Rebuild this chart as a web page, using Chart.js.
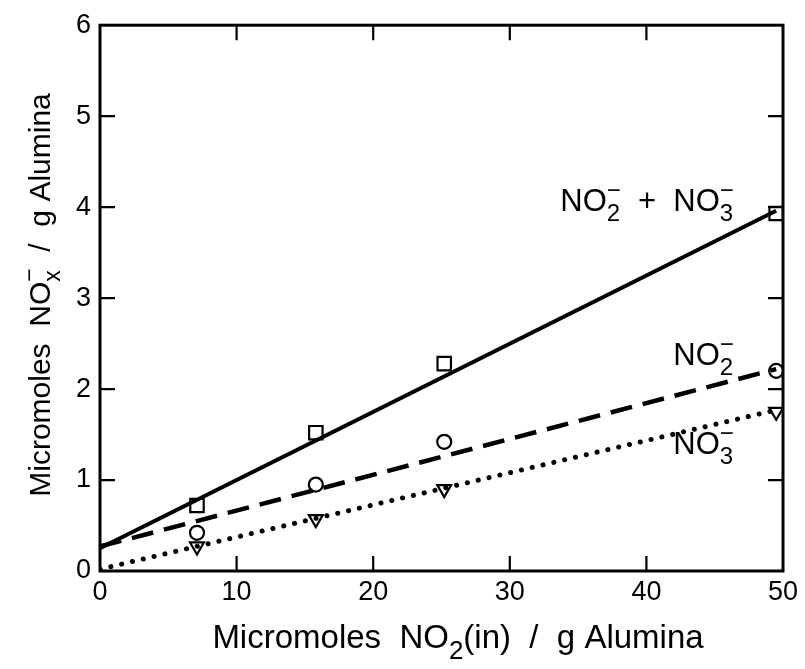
<!DOCTYPE html>
<html>
<head>
<meta charset="utf-8">
<script src="https://cdn.jsdelivr.net/npm/chart.js@4.4.1/dist/chart.umd.min.js"></script>
<style>
  html, body { margin: 0; padding: 0; background: #fff; }
  #wrap { width: 805px; height: 669px; }
</style>
</head>
<body>
<div id="wrap"><canvas id="chart"></canvas></div>
<script>
// NO2 loading (micromoles / g alumina) for the measured samples
const loadings = [7.1, 15.8, 25.2, 49.5];
const totalNOx = [0.72, 1.52, 2.28, 3.93];   // NO2- + NO3-
const nitrite = [0.42, 0.95, 1.42, 2.2];     // NO2-
const nitrate = [0.27, 0.57, 0.9, 1.75];     // NO3-

// fitted straight lines (end points)
const fitX = [0, 49.5];
const fitTotal = [0.25, 3.96];
const fitNitrite = [0.27, 2.22];
const fitNitrate = [0.02, 1.77];

const xTicks = [0, 10, 20, 30, 40, 50];
const yTicks = [0, 1, 2, 3, 4, 5, 6];

const FONT = '"Liberation Sans", Arial, Helvetica, sans-serif';

const pairs = (xs, ys) => xs.map((x, i) => ({ x: x, y: ys[i] }));

// draws text made of pieces: {t, sub, stack:[sub, sup]}
function richText(ctx, parts, x, y, size, align) {
  const small = Math.round(size * 0.78);
  const widthOf = (p) => {
    ctx.font = (p.sub || p.stack ? small : size) + 'px ' + FONT;
    if (p.stack) {
      return Math.max(ctx.measureText(p.stack[0]).width, ctx.measureText(p.stack[1]).width);
    }
    return ctx.measureText(p.t).width;
  };
  let total = 0;
  parts.forEach(p => { total += widthOf(p); });
  let cx = align === 'center' ? x - total / 2 : (align === 'right' ? x - total : x);
  ctx.textBaseline = 'alphabetic';
  ctx.textAlign = 'left';
  parts.forEach(p => {
    const w = widthOf(p);
    if (p.stack) {
      ctx.fillText(p.stack[0], cx, y + size * 0.32);
      ctx.fillText(p.stack[1], cx, y - size * 0.42);
    } else if (p.sub) {
      ctx.fillText(p.t, cx, y + size * 0.32);
    } else {
      ctx.fillText(p.t, cx, y);
    }
    cx += w;
  });
}

const framePlugin = {
  id: 'frame',
  afterDraw(chart) {
    const { ctx, chartArea: a, scales } = chart;
    ctx.save();
    ctx.strokeStyle = '#000';
    ctx.lineWidth = 3;
    ctx.strokeRect(a.left, a.top, a.right - a.left, a.bottom - a.top);
    ctx.lineWidth = 2.2;
    const len = 15;
    xTicks.slice(1, -1).forEach(v => {
      const px = scales.x.getPixelForValue(v);
      ctx.beginPath();
      ctx.moveTo(px, a.bottom); ctx.lineTo(px, a.bottom - len);
      ctx.moveTo(px, a.top); ctx.lineTo(px, a.top + len);
      ctx.stroke();
    });
    yTicks.slice(1, -1).forEach(v => {
      const py = scales.y.getPixelForValue(v);
      ctx.beginPath();
      ctx.moveTo(a.left, py); ctx.lineTo(a.left + len, py);
      ctx.moveTo(a.right, py); ctx.lineTo(a.right - len, py);
      ctx.stroke();
    });

    ctx.fillStyle = '#000';
    // axis titles
    richText(ctx, [
      { t: 'Micromoles  NO' }, { t: '2', sub: true }, { t: '(in)  /  g Alumina' }
    ], 458, 648, 33, 'center');

    ctx.save();
    ctx.translate(50, 295);
    ctx.rotate(-Math.PI / 2);
    richText(ctx, [
      { t: 'Micromoles  NO' }, { stack: ['x', '\u2212'] }, { t: '  /  g Alumina' }
    ], 0, 0, 30, 'center');
    ctx.restore();

    // series labels
    const sx = scales.x, sy = scales.y;
    const right = sx.getPixelForValue(46.4);
    richText(ctx, [
      { t: 'NO' }, { stack: ['2', '\u2212'] }, { t: '  +  NO' }, { stack: ['3', '\u2212'] }
    ], right, sy.getPixelForValue(3.96), 31, 'right');
    richText(ctx, [
      { t: 'NO' }, { stack: ['2', '\u2212'] }
    ], right, sy.getPixelForValue(2.26), 31, 'right');
    richText(ctx, [
      { t: 'NO' }, { stack: ['3', '\u2212'] }
    ], right, sy.getPixelForValue(1.29), 31, 'right');
    ctx.restore();
  }
};

const markerStyle = {
  showLine: false,
  borderColor: '#000',
  backgroundColor: '#fff',
  borderWidth: 2.2,
  pointRadius: 7
};

const lineStyle = {
  showLine: true,
  pointRadius: 0,
  borderColor: '#000',
  fill: false
};

new Chart(document.getElementById('chart'), {
  type: 'scatter',
  data: {
    datasets: [
      Object.assign({}, lineStyle, { data: pairs(fitX, fitTotal), borderWidth: 4 }),
      Object.assign({}, lineStyle, { data: pairs(fitX, fitNitrite), borderWidth: 4.5, borderDash: [22, 11] }),
      Object.assign({}, lineStyle, { data: pairs(fitX, fitNitrate), borderWidth: 5, borderDash: [0.1, 11], borderCapStyle: 'round' }),
      Object.assign({}, markerStyle, { data: pairs(loadings, totalNOx), pointStyle: 'rect', pointRadius: 9.5 }),
      Object.assign({}, markerStyle, { data: pairs(loadings, nitrite), pointStyle: 'circle', pointRadius: 7 }),
      Object.assign({}, markerStyle, { data: pairs(loadings, nitrate), pointStyle: 'triangle', pointRotation: 180, pointRadius: 8 })
    ]
  },
  options: {
    responsive: true,
    maintainAspectRatio: false,
    animation: false,
    layout: { padding: { top: 16, right: 22, left: 0, bottom: 0 } },
    plugins: { legend: { display: false }, tooltip: { enabled: false } },
    scales: {
      x: {
        type: 'linear', min: 0, max: 50,
        afterBuildTicks: (s) => { s.ticks = xTicks.map(v => ({ value: v })); },
        afterFit: (s) => { s.height = 98; },
        grid: { display: false, drawTicks: false },
        border: { display: false },
        ticks: { padding: 5, color: '#000', font: { family: FONT, size: 27 }, maxRotation: 0 }
      },
      y: {
        type: 'linear', min: 0, max: 6,
        afterBuildTicks: (s) => { s.ticks = yTicks.map(v => ({ value: v })); },
        afterFit: (s) => { s.width = 100; },
        grid: { display: false, drawTicks: false },
        border: { display: false },
        ticks: { padding: 9, color: '#000', font: { family: FONT, size: 27 } }
      }
    }
  },
  plugins: [framePlugin]
});
</script>
</body>
</html>
